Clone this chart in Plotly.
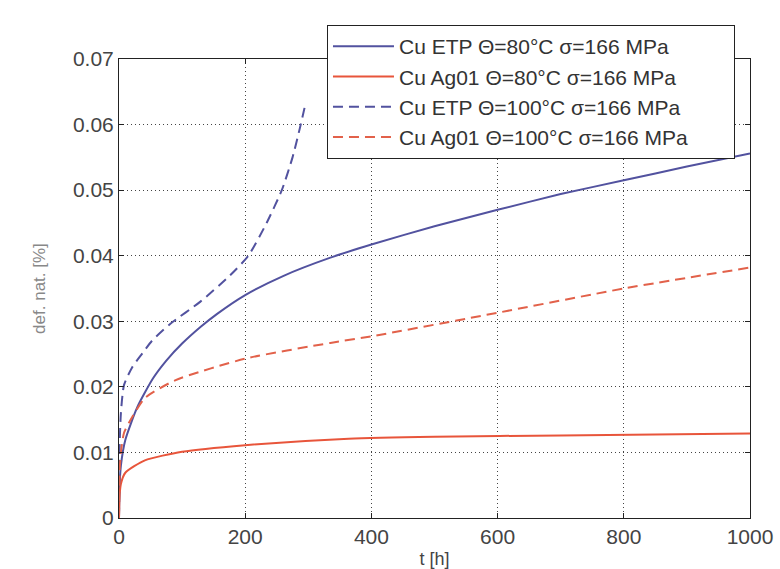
import plotly.graph_objects as go

# Cu ETP, 80 °C (blue solid)
t_etp80 = [0, 1, 3, 10, 29, 54, 75, 100, 130, 155, 200, 260, 335, 400, 500, 600, 700, 800, 900, 1000]
v_etp80 = [0, 0.005, 0.008, 0.0119, 0.0169, 0.0213, 0.024, 0.0266, 0.0292, 0.0311, 0.034, 0.0369,
           0.0397, 0.0417, 0.0445, 0.047, 0.0494, 0.0515, 0.0536, 0.0556]

# Cu Ag01, 80 °C (red solid)
t_ag80 = [0, 1, 3, 10, 41, 100, 200, 364, 500, 700, 1000]
v_ag80 = [0, 0.0035, 0.0052, 0.0069, 0.0088, 0.0101, 0.0111, 0.0121, 0.0124, 0.0126, 0.0129]

# Cu ETP, 100 °C (blue dashed)
t_etp100 = [0, 1, 3, 8, 21, 37, 52, 81, 129, 176, 205, 234, 258, 275, 288, 296]
v_etp100 = [0, 0.011, 0.016, 0.0203, 0.023, 0.0251, 0.027, 0.0296, 0.033, 0.037, 0.040, 0.045,
            0.050, 0.055, 0.060, 0.0634]

# Cu Ag01, 100 °C (red dashed)
t_ag100 = [0, 1, 3, 8, 21, 41, 89, 200, 335, 400, 600, 800, 1000]
v_ag100 = [0, 0.007, 0.010, 0.013, 0.0154, 0.0183, 0.021, 0.0243, 0.0267, 0.0277, 0.0313, 0.035, 0.0382]

names = ["Cu ETP Θ=80°C σ=166 MPa", "Cu Ag01 Θ=80°C σ=166 MPa",
         "Cu ETP Θ=100°C σ=166 MPa", "Cu Ag01 Θ=100°C σ=166 MPa"]

x_ticks = [0, 200, 400, 600, 800, 1000]
y_ticks = [0, 0.01, 0.02, 0.03, 0.04, 0.05, 0.06, 0.07]
y_tick_text = ["0", "0.01", "0.02", "0.03", "0.04", "0.05", "0.06", "0.07"]

BLUE = "#52529f"
RED = "#e8553b"
RED_D = "#e2614a"
pad = "\u00a0" * 7

fig = go.Figure()
series = [
    (t_etp80, v_etp80, names[0], BLUE, "solid"),
    (t_ag80, v_ag80, names[1], RED, "solid"),
    (t_etp100, v_etp100, names[2], BLUE, "10px,6px"),
    (t_ag100, v_ag100, names[3], RED_D, "10px,6px"),
]
for tx, vy, nm, col, dash in series:
    fig.add_trace(go.Scatter(x=tx, y=vy, mode="lines", name=nm + pad,
                             line=dict(color=col, width=2, dash=dash, shape="spline", smoothing=0.6)))

axis_common = dict(showline=True, linecolor="#222", linewidth=1, mirror="ticks",
                   ticks="inside", ticklen=5, tickcolor="#222", automargin=False,
                   showgrid=True, gridcolor="#444", gridwidth=1, griddash="1px,3px",
                   zeroline=False, tickfont=dict(size=21, color="#444"))

fig.update_xaxes(range=[0, 1000], tickvals=x_ticks, ticktext=[str(v) for v in x_ticks],
                 title=dict(text="t [h]", font=dict(size=18, color="#444"), standoff=8),
                 **axis_common)
fig.update_yaxes(range=[0, 0.07], tickvals=y_ticks, ticktext=y_tick_text,
                 title=dict(text="def. nat. [%]", font=dict(size=17, color="#888"), standoff=22),
                 **axis_common)

fig.update_layout(
    width=780, height=569,
    margin=dict(l=119, r=30, t=59, b=51),
    paper_bgcolor="white", plot_bgcolor="white",
    font=dict(family="Liberation Sans, Arial, sans-serif", color="#333"),
    legend=dict(x=0.3296, y=1.074, xanchor="left", yanchor="top",
                bgcolor="white", bordercolor="#222", borderwidth=1, itemwidth=61,
                font=dict(size=21, color="#333"), tracegroupgap=0),
    showlegend=True,
)

fig.write_html("out.html")
